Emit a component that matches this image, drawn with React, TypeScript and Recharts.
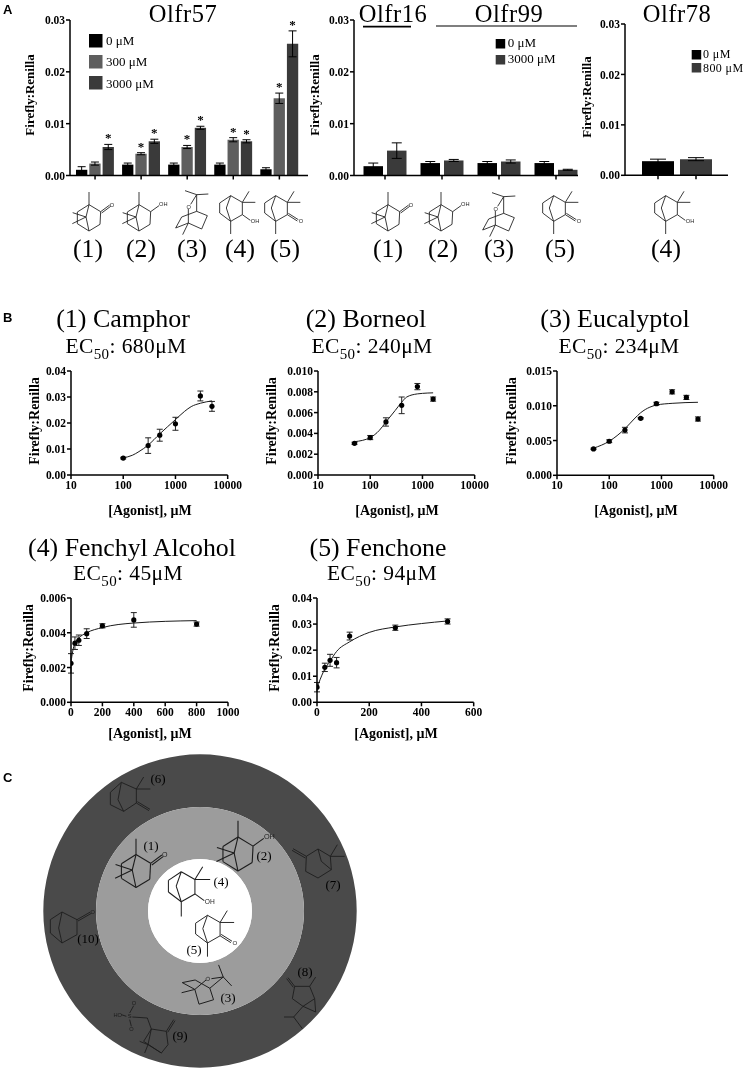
import React from 'react';
import {
  BarChart, Bar, XAxis, YAxis, ErrorBar, LabelList, Cell,
  ScatterChart, Scatter, PieChart, Pie,
} from 'recharts';

const SERIF = '"Liberation Serif", serif';
const BLACK = '#000000';
const MID = '#5e5e5e';
const DARK = '#3a3a3a';

// Panel A
const compounds57 = ['1', '2', '3', '4', '5'];
const olfr57Zero = [0.0011, 0.0021, 0.0021, 0.0021, 0.0012];
const olfr57ZeroErr = [0.0006, 0.0003, 0.0003, 0.0003, 0.0003];
const olfr57Low = [0.0023, 0.0042, 0.0055, 0.0069, 0.0149];
const olfr57LowErr = [0.0003, 0.0002, 0.0003, 0.0004, 0.001];
const olfr57High = [0.0055, 0.0066, 0.0092, 0.0066, 0.0254];
const olfr57HighErr = [0.0005, 0.0004, 0.0003, 0.0003, 0.0025];
const olfr57LowStar = [false, true, true, true, true];
const olfr57HighStar = [true, true, true, true, true];

const compounds99 = ['1', '2', '3', '5'];
const olfr99Zero = [0.0018, 0.0024, 0.0024, 0.0024];
const olfr99ZeroErr = [0.0006, 0.0003, 0.0003, 0.0003];
const olfr99High = [0.0048, 0.0029, 0.0027, 0.0011];
const olfr99HighErr = [0.0015, 0.0002, 0.0003, 0.0001];

const doses78 = ['0', '800'];
const olfr78Values = [0.0028, 0.0032];
const olfr78Err = [0.0004, 0.0003];
const olfr78Colors = [BLACK, DARK];

const barTicks = [0, 0.01, 0.02, 0.03];

// Panel B: measured points
const camphorX = [100, 300, 500, 1000, 3000, 5000];
const camphorY = [0.0065, 0.0113, 0.0153, 0.0197, 0.0304, 0.0264];
const camphorErr = [0.0003, 0.003, 0.0023, 0.0025, 0.0019, 0.0019];
const camphorCurveX = [100, 150, 200, 300, 500, 700, 1000, 1500, 2000, 3000, 5000];
const camphorCurveY = [0.0066, 0.0076, 0.009, 0.0115, 0.0158, 0.0185, 0.0213, 0.0245, 0.0263, 0.0276, 0.0285];

const borneolX = [50, 100, 200, 400, 800, 1600];
const borneolY = [0.00305, 0.0036, 0.0051, 0.0067, 0.0085, 0.0073];
const borneolErr = [0.0001, 0.0002, 0.0004, 0.0008, 0.0003, 0.0002];
const borneolCurveX = [50, 100, 150, 200, 300, 400, 500, 800, 1000, 1600];
const borneolCurveY = [0.0032, 0.0036, 0.0043, 0.0051, 0.0062, 0.007, 0.0075, 0.0078, 0.00785, 0.0079];

const eucalyptolX = [50, 100, 200, 400, 800, 1600, 3000, 5000];
const eucalyptolY = [0.0038, 0.0049, 0.0065, 0.0082, 0.0103, 0.012, 0.0112, 0.0081];
const eucalyptolErr = [0.0001, 0.0002, 0.0004, 0.0001, 0.0002, 0.0003, 0.0003, 0.0003];
const eucalyptolCurveX = [50, 100, 200, 300, 400, 600, 800, 1600, 5000];
const eucalyptolCurveY = [0.0039, 0.0049, 0.0067, 0.0081, 0.009, 0.0098, 0.0101, 0.01035, 0.0105];

const fenchylX = [0, 25, 50, 100, 200, 400, 800];
const fenchylY = [0.00224, 0.0034, 0.00357, 0.00395, 0.0044, 0.00474, 0.0045];
const fenchylErr = [0.00056, 0.00036, 0.0003, 0.00028, 0.00012, 0.00042, 0.00012];
const fenchylCurveX = [0, 10, 25, 50, 100, 200, 400, 800];
const fenchylCurveY = [0.0023, 0.0029, 0.0034, 0.0037, 0.004, 0.0043, 0.00456, 0.0047];

const fenchoneX = [0, 30, 50, 75, 125, 300, 500];
const fenchoneY = [0.0058, 0.0134, 0.0161, 0.0152, 0.0254, 0.0286, 0.031];
const fenchoneErr = [0.0018, 0.0016, 0.0023, 0.002, 0.0015, 0.001, 0.001];
const fenchoneCurveX = [0, 25, 50, 75, 125, 200, 300, 400, 500];
const fenchoneCurveY = [0.0055, 0.0118, 0.0158, 0.0195, 0.0232, 0.0268, 0.0289, 0.0302, 0.0312];

const logTicks = [10, 100, 1000, 10000];

// Panel C
const ringTiers = ['outer', 'middle', 'inner'];
const ringValues = [1, 1, 1];

// Skeletal formulas, as bonds x1 y1 x2 y2 around the middle of each molecule
const camphorFrame = [
  [0, -75, 0, -37], [0, -37, 35, -16], [35, -16, 33, 22], [33, 22, 0, 42], [0, 42, -35, 20],
  [-35, 20, -35, -15], [-35, -15, 0, -37], [0, -37, -9, 0], [-9, 0, 0, 42], [-9, 0, -49, -13], [-9, 0, -50, 20],
];
const fenchFrame = [
  [-7, -52, -40, -30], [-40, -30, -40, 0], [-40, 0, -7, 25], [-7, 25, 28, 5], [28, 5, 28, -32], [28, -32, -7, -52],
  [-7, -52, -20, -15], [-20, -15, -7, 25], [28, -32, 48, -65], [28, -32, 67, -32], [-7, 25, -7, 63],
];
const molecules: Record<string, { bonds: number[][]; atoms: [string, number, number][] }> = {
  camphor: { bonds: [...camphorFrame, [35, -16, 62, -36], [38, -12, 65, -32]], atoms: [['O', 69, -37]] },
  borneol: { bonds: [...camphorFrame, [35, -16, 60, -34]], atoms: [['OH', 73, -38]] },
  eucalyptol: {
    bonds: [
      [20, -55, -15, -67], [20, -55, 55, -57], [20, -55, 2, -26], [-5, -12, -5, 30], [20, -55, 20, -5], [20, -5, 52, 8],
      [52, 8, 35, 48], [35, 48, -5, 30], [-5, 30, -43, 45], [-43, 45, -25, 12], [-25, 12, 20, -5], [-5, 30, -22, 65],
    ],
    atoms: [['O', -4, -18]],
  },
  fenchol: { bonds: [...fenchFrame, [28, 5, 52, 22]], atoms: [['OH', 66, 25]] },
  fenchone: { bonds: [...fenchFrame, [28, 5, 58, 24], [31, 1, 61, 20]], atoms: [['O', 69, 25]] },
  camphene: {
    bonds: [
      [-8, -59, -41, -29], [-41, -29, -41, 8], [-41, 8, -1, 28], [-1, 28, 37, 3], [37, 3, 37, -39], [37, -39, -8, -59],
      [-8, -59, -18, -7], [-18, -7, -1, 28], [37, -39, 59, -75], [37, -39, 79, -39], [37, 3, 75, 26], [40, -1, 78, 22],
    ],
    atoms: [],
  },
  pinene: {
    bonds: [
      [-35, -20, -75, -43], [-38, -15, -78, -38], [-35, -20, -37, 25], [-37, 25, 0, 45], [0, 45, 40, 20], [40, 20, 37, -20],
      [37, -20, 0, -42], [0, -42, -35, -20], [0, -42, 10, -5], [10, -5, 40, 20], [37, -20, 58, -55], [37, -20, 80, -20],
    ],
    atoms: [],
  },
  thujone: {
    bonds: [
      [-25, -32, -45, -58], [-29, -29, -49, -55], [-25, -32, 20, -32], [20, -32, 38, -60], [20, -32, 35, 5], [35, 5, 0, 28],
      [0, 28, -32, 5], [-32, 5, -25, -32], [35, 5, 38, 45], [38, 45, 0, 28], [0, 28, -28, 60], [-28, 60, -57, 60], [-28, 60, -2, 95],
    ],
    atoms: [],
  },
  sulfonic: {
    bonds: [
      [-5, -42, 40, -35], [40, -35, 62, -70], [44, -32, 66, -67], [40, -35, 45, 5], [45, 5, 25, 30], [25, 30, -15, 5],
      [-15, 5, -5, -42], [-5, -42, -28, -5], [-28, -5, 25, 30], [-15, 5, -40, -5], [-15, 5, -25, 30],
      [-5, -42, -17, -75], [-17, -75, -62, -78], [-70, -90, -58, -112], [-70, -70, -65, -50], [-80, -80, -95, -85],
    ],
    atoms: [['S', -70, -80], ['O', -57, -120], ['O', -65, -42], ['HO', -106, -85]],
  },
  norcamphor: {
    bonds: [
      [0, -48, 45, -25], [45, -25, 85, -48], [48, -21, 88, -44], [45, -25, 45, 20], [45, 20, 0, 45], [0, 45, -35, 15],
      [-35, 15, -35, -25], [-35, -25, 0, -48], [0, -48, -10, 0], [-10, 0, 0, 45],
    ],
    atoms: [['O', 92, -48]],
  },
};

function Molecule({ name, x, y, s = 1 / 3, rotate = 0 }: { name: string; x: number; y: number; s?: number; rotate?: number }) {
  const m = molecules[name];
  return (
    <g transform={`translate(${x} ${y}) rotate(${rotate}) scale(${s})`}>
      {m.bonds.map((b, i) => (
        <line key={i} x1={b[0]} y1={b[1]} x2={b[2]} y2={b[3]} stroke="#1c1c1c" strokeWidth={2.6} />
      ))}
      {m.atoms.map(([label, ax, ay], i) => (
        <text key={i} x={ax} y={ay + 6} textAnchor="middle" fontFamily="Liberation Sans" fontSize={17} fill="#1c1c1c">
          {label}
        </text>
      ))}
    </g>
  );
}

const toRows = (xs: number[], ys: number[], errs?: number[]) =>
  xs.map((x, i) => ({ x, y: ys[i], err: errs ? errs[i] : 0 }));

const tickStyle = { fontFamily: SERIF, fontSize: 11.5, fontWeight: 700, fill: '#000' };
const axisLine = { stroke: '#000', strokeWidth: 1.5 };

function Place({ x, y, children }: { x: number; y: number; children: React.ReactNode }) {
  return <div style={{ position: 'absolute', left: x - 60, top: y - 10, willChange: 'transform' }}>{children}</div>;
}

const frame = (w: number, h: number) => ({
  width: w + 80,
  height: h + 70,
  margin: { top: 10, right: 20, bottom: 10, left: 0 },
});

const starLabel = (errs: number[], flags: boolean[], pxPerUnit: number) => (props: any) => {
  const { x, y, width, index } = props;
  if (!flags[index]) return null;
  return (
    <text x={x + width / 2} y={y - errs[index] * pxPerUnit - 2} textAnchor="middle" fontFamily={SERIF} fontWeight={700} fontSize={13} fill="#000">
      *
    </text>
  );
};

function DoseResponse(props: {
  x: number; y: number; w: number; h: number;
  points: { x: number; y: number; err: number }[];
  curve: { x: number; y: number; err: number }[];
  yMax: number; yTicks: number[]; decimals: number;
  log?: boolean; xMax?: number; xTicks?: number[];
}) {
  const { x, y, w, h, points, curve, yMax, yTicks, decimals, log, xMax, xTicks } = props;
  return (
    <Place x={x} y={y}>
      <ScatterChart {...frame(w, h)}>
        <XAxis
          type="number"
          dataKey="x"
          scale={log ? 'log' : 'linear'}
          domain={log ? [10, 10000] : [0, xMax as number]}
          ticks={log ? logTicks : xTicks}
          interval={0}
          height={50}
          axisLine={axisLine}
          tickLine={axisLine}
          tickSize={4}
          tickMargin={2}
          tick={tickStyle}
          allowDataOverflow
        />
        <YAxis
          type="number"
          dataKey="y"
          width={60}
          domain={[0, yMax]}
          ticks={yTicks}
          interval={0}
          axisLine={axisLine}
          tickLine={axisLine}
          tickSize={4}
          tickMargin={1}
          tick={tickStyle}
          tickFormatter={(v: number) => v.toFixed(decimals)}
        />
        <Scatter
          data={curve}
          isAnimationActive={false}
          line={{ stroke: '#1a1a1a', strokeWidth: 1 }}
          lineJointType="monotoneX"
          shape={() => <g />}
        />
        <Scatter
          data={points}
          isAnimationActive={false}
          fill="#000"
          shape={(p: any) => <circle cx={p.cx} cy={p.cy} r={2.6} fill="#000" />}
        >
          <ErrorBar dataKey="err" direction="y" width={3} stroke="#222" strokeWidth={1} isAnimationActive={false} />
        </Scatter>
      </ScatterChart>
    </Place>
  );
}

function Label(props: { x: number; y: number; size: number; bold?: boolean; anchor?: string; spacing?: number; children: React.ReactNode }) {
  const { x, y, size, bold, anchor = 'middle', spacing = 0, children } = props;
  return (
    <text x={x} y={y} fontFamily={SERIF} fontSize={size} fontWeight={bold ? 700 : 400} letterSpacing={spacing} textAnchor={anchor as any} fill="#000">
      {children}
    </text>
  );
}

function YTitle({ x, y, size = 13 }: { x: number; y: number; size?: number }) {
  return (
    <text transform={`translate(${x} ${y}) rotate(-90)`} fontFamily={SERIF} fontSize={size} fontWeight={700} textAnchor="middle" fill="#000">
      Firefly:Renilla
    </text>
  );
}

function Ec50({ x, y, value }: { x: number; y: number; value: string }) {
  return (
    <text x={x} y={y} fontFamily={SERIF} fontSize={21.5} letterSpacing={0.4} textAnchor="middle" fill="#000">
      EC<tspan dy={6} fontSize={15}>50</tspan><tspan dy={-6}>: {value}μM</tspan>
    </text>
  );
}

function Swatch({ x, y, size, color }: { x: number; y: number; size: number; color: string }) {
  return <rect x={x} y={y} width={size} height={size} fill={color} />;
}

export default function App() {
  const rows57 = compounds57.map((c, i) => ({
    c, zero: olfr57Zero[i], zeroErr: olfr57ZeroErr[i], low: olfr57Low[i], lowErr: olfr57LowErr[i], high: olfr57High[i], highErr: olfr57HighErr[i],
  }));
  const rows99 = compounds99.map((c, i) => ({
    c, zero: olfr99Zero[i], zeroErr: olfr99ZeroErr[i], high: olfr99High[i], highErr: olfr99HighErr[i],
  }));
  const rows78 = doses78.map((c, i) => ({ c, value: olfr78Values[i], err: olfr78Err[i] }));
  const rings = ringTiers.map((name, i) => ({ name, value: ringValues[i] }));
  const pxPerUnit = 155.5 / 0.03;
  const blankTick = () => '';

  return (
    <div style={{ position: 'absolute', left: 0, top: 0, width: 746, height: 1070, background: '#fff', overflow: 'hidden' }}>
      {/* A */}
      <Place x={70} y={20}>
        <BarChart {...frame(238, 155.5)} data={rows57} barSize={11.3} barGap={2}>
          <XAxis dataKey="c" height={50} padding={{ left: 2, right: 5.6 }} axisLine={axisLine} tickLine={axisLine} tickSize={4} tickFormatter={blankTick} />
          <YAxis width={60} domain={[0, 0.03]} ticks={barTicks} interval={0} axisLine={axisLine} tickLine={axisLine} tickSize={4} tickMargin={1} tick={tickStyle} tickFormatter={(v: number) => v.toFixed(2)} />
          <Bar dataKey="zero" fill={BLACK} isAnimationActive={false}>
            <ErrorBar dataKey="zeroErr" direction="y" width={4} stroke="#000" strokeWidth={1} isAnimationActive={false} />
          </Bar>
          <Bar dataKey="low" fill={MID} isAnimationActive={false}>
            <ErrorBar dataKey="lowErr" direction="y" width={4} stroke="#000" strokeWidth={1} isAnimationActive={false} />
            <LabelList dataKey="low" content={starLabel(olfr57LowErr, olfr57LowStar, pxPerUnit)} />
          </Bar>
          <Bar dataKey="high" fill={DARK} isAnimationActive={false}>
            <ErrorBar dataKey="highErr" direction="y" width={4} stroke="#000" strokeWidth={1} isAnimationActive={false} />
            <LabelList dataKey="high" content={starLabel(olfr57HighErr, olfr57HighStar, pxPerUnit)} />
          </Bar>
        </BarChart>
      </Place>
      <Place x={354} y={20}>
        <BarChart {...frame(224, 155.5)} data={rows99} barSize={19.5} barGap={4}>
          <XAxis dataKey="c" height={50} padding={{ left: 2.5, right: -6.5 }} axisLine={axisLine} tickLine={axisLine} tickSize={4} tickFormatter={blankTick} />
          <YAxis width={60} domain={[0, 0.03]} ticks={barTicks} interval={0} axisLine={axisLine} tickLine={axisLine} tickSize={4} tickMargin={1} tick={tickStyle} tickFormatter={(v: number) => v.toFixed(2)} />
          <Bar dataKey="zero" fill={BLACK} isAnimationActive={false}>
            <ErrorBar dataKey="zeroErr" direction="y" width={5} stroke="#000" strokeWidth={1} isAnimationActive={false} />
          </Bar>
          <Bar dataKey="high" fill={DARK} isAnimationActive={false}>
            <ErrorBar dataKey="highErr" direction="y" width={5} stroke="#000" strokeWidth={1} isAnimationActive={false} />
          </Bar>
        </BarChart>
      </Place>
      <Place x={625} y={24.3}>
        <BarChart {...frame(103, 151.3)} data={rows78} barSize={32}>
          <XAxis dataKey="c" height={50} padding={{ left: 14, right: 13 }} axisLine={axisLine} tickLine={axisLine} tickSize={4} tickFormatter={blankTick} />
          <YAxis width={60} domain={[0, 0.03]} ticks={barTicks} interval={0} axisLine={axisLine} tickLine={axisLine} tickSize={4} tickMargin={1} tick={tickStyle} tickFormatter={(v: number) => v.toFixed(2)} />
          <Bar dataKey="value" isAnimationActive={false}>
            {rows78.map((r, i) => <Cell key={r.c} fill={olfr78Colors[i]} />)}
            <ErrorBar dataKey="err" direction="y" width={8} stroke="#000" strokeWidth={1} isAnimationActive={false} />
          </Bar>
        </BarChart>
      </Place>

      {/* B */}
      <DoseResponse x={71} y={371} w={156.7} h={104} points={toRows(camphorX, camphorY, camphorErr)} curve={toRows(camphorCurveX, camphorCurveY)} yMax={0.04} yTicks={[0, 0.01, 0.02, 0.03, 0.04]} decimals={2} log />
      <DoseResponse x={317.7} y={371} w={156.7} h={104} points={toRows(borneolX, borneolY, borneolErr)} curve={toRows(borneolCurveX, borneolCurveY)} yMax={0.01} yTicks={[0, 0.002, 0.004, 0.006, 0.008, 0.01]} decimals={3} log />
      <DoseResponse x={556.7} y={370.7} w={156.7} h={104.3} points={toRows(eucalyptolX, eucalyptolY, eucalyptolErr)} curve={toRows(eucalyptolCurveX, eucalyptolCurveY)} yMax={0.015} yTicks={[0, 0.005, 0.01, 0.015]} decimals={3} log />
      <DoseResponse x={70.7} y={598} w={157} h={104.3} points={toRows(fenchylX, fenchylY, fenchylErr)} curve={toRows(fenchylCurveX, fenchylCurveY)} yMax={0.006} yTicks={[0, 0.002, 0.004, 0.006]} decimals={3} xMax={1000} xTicks={[0, 200, 400, 600, 800, 1000]} />
      <DoseResponse x={316.7} y={598} w={156.7} h={104.3} points={toRows(fenchoneX, fenchoneY, fenchoneErr)} curve={toRows(fenchoneCurveX, fenchoneCurveY)} yMax={0.04} yTicks={[0, 0.01, 0.02, 0.03, 0.04]} decimals={2} xMax={600} xTicks={[0, 200, 400, 600]} />

      {/* C */}
      <div style={{ position: 'absolute', left: 40, top: 751 }}>
        <PieChart width={320} height={320} margin={{ top: 0, right: 0, bottom: 0, left: 0 }}>
          <Pie data={rings.slice(0, 1)} dataKey="value" cx={160} cy={160} innerRadius={104} outerRadius={156.7} startAngle={0} endAngle={360} fill="#4a4a4a" stroke="none" isAnimationActive={false} />
          <Pie data={rings.slice(1, 2)} dataKey="value" cx={160} cy={160} innerRadius={52} outerRadius={104} startAngle={0} endAngle={360} fill="#9c9c9c" stroke="none" isAnimationActive={false} />
          <Pie data={rings.slice(2, 3)} dataKey="value" cx={160} cy={160} innerRadius={0} outerRadius={52} startAngle={0} endAngle={360} fill="#ffffff" stroke="none" isAnimationActive={false} />
        </PieChart>
      </div>

      <svg width={746} height={1070} style={{ position: 'absolute', left: 0, top: 0, pointerEvents: 'none', willChange: 'transform' }}>
        <text x={3} y={14} fontFamily="Liberation Sans" fontWeight={700} fontSize={13}>A</text>
        <text x={3} y={322} fontFamily="Liberation Sans" fontWeight={700} fontSize={13}>B</text>
        <text x={3} y={782} fontFamily="Liberation Sans" fontWeight={700} fontSize={13}>C</text>

        <Label x={183} y={22} size={24.5} spacing={0.5}>Olfr57</Label>
        <Label x={393} y={22} size={24.5} spacing={0.5}>Olfr16</Label>
        <Label x={509} y={22} size={24.5} spacing={0.5}>Olfr99</Label>
        <Label x={677} y={22} size={24.5} spacing={0.5}>Olfr78</Label>
        <line x1={363} x2={411} y1={26.6} y2={26.6} stroke="#000" strokeWidth={1.8} />
        <line x1={436} x2={577} y1={26} y2={26} stroke="#000" strokeWidth={1.2} />

        <YTitle x={34} y={95} />
        <YTitle x={319} y={95} />
        <YTitle x={591} y={97} />

        <Swatch x={89} y={34} size={13.5} color={BLACK} />
        <Swatch x={89} y={55} size={13.5} color={MID} />
        <Swatch x={89} y={76} size={13.5} color={DARK} />
        <Label x={106} y={45} size={13} anchor="start">0 μM</Label>
        <Label x={106} y={66} size={13} anchor="start">300 μM</Label>
        <Label x={106} y={88} size={13} anchor="start">3000 μM</Label>

        <Swatch x={495.7} y={39} size={9.5} color={BLACK} />
        <Swatch x={495.7} y={55} size={9.5} color={DARK} />
        <Label x={507.7} y={47} size={13} anchor="start">0 μM</Label>
        <Label x={507.7} y={63} size={13} anchor="start">3000 μM</Label>

        <Swatch x={691.7} y={50} size={9.5} color={BLACK} />
        <Swatch x={691.7} y={63} size={9.5} color={DARK} />
        <Label x={703} y={58} size={12} spacing={0.4} anchor="start">0 μM</Label>
        <Label x={703} y={72} size={12} spacing={0.4} anchor="start">800 μM</Label>

        <Molecule name="camphor" x={89} y={217} />
        <Molecule name="borneol" x={139} y={217} />
        <Molecule name="eucalyptol" x={190} y={213} />
        <Molecule name="fenchol" x={233} y={213} />
        <Molecule name="fenchone" x={278} y={213} />
        <Molecule name="camphor" x={388} y={217} />
        <Molecule name="borneol" x={441} y={217} />
        <Molecule name="eucalyptol" x={497} y={215} />
        <Molecule name="fenchone" x={556} y={213} />
        <Molecule name="fenchol" x={668} y={213} />

        {[['(1)', 88], ['(2)', 141], ['(3)', 192], ['(4)', 240], ['(5)', 285], ['(1)', 388], ['(2)', 443], ['(3)', 499], ['(5)', 560], ['(4)', 666]].map(([t, x], i) => (
          <Label key={i} x={x as number} y={257} size={25.6}>{t}</Label>
        ))}

        <Label x={123} y={326.5} size={26}>(1) Camphor</Label>
        <Ec50 x={126} y={352.5} value="680" />
        <Label x={366} y={326.5} size={26}>(2) Borneol</Label>
        <Ec50 x={372} y={352.5} value="240" />
        <Label x={615} y={326.5} size={26}>(3) Eucalyptol</Label>
        <Ec50 x={619} y={352.5} value="234" />
        <Label x={132} y={555.5} size={25.8}>(4) Fenchyl Alcohol</Label>
        <Ec50 x={128} y={580.3} value="45" />
        <Label x={378} y={555.5} size={25.8}>(5) Fenchone</Label>
        <Ec50 x={382} y={580.3} value="94" />

        <YTitle x={39} y={421} size={14} />
        <YTitle x={276} y={421} size={14} />
        <YTitle x={516} y={421} size={14} />
        <YTitle x={33} y={648} size={14} />
        <YTitle x={279} y={648} size={14} />
        <Label x={150} y={515} size={14} bold>[Agonist], μM</Label>
        <Label x={397} y={515} size={14} bold>[Agonist], μM</Label>
        <Label x={636} y={515} size={14} bold>[Agonist], μM</Label>
        <Label x={150} y={738} size={14} bold>[Agonist], μM</Label>
        <Label x={396} y={738} size={14} bold>[Agonist], μM</Label>

        <Molecule name="camphene" x={124} y={802} />
        <Molecule name="camphor" x={136} y={870} s={0.417} />
        <Molecule name="borneol" x={238} y={853} s={0.43} />
        <Molecule name="fenchol" x={184} y={892} s={0.39} />
        <Molecule name="fenchone" x={210} y={934} s={0.36} />
        <Molecule name="eucalyptol" x={204} y={984} s={0.35} rotate={50} />
        <Molecule name="pinene" x={318} y={863} />
        <Molecule name="thujone" x={303} y={997} />
        <Molecule name="sulfonic" x={153} y={1043} />
        <Molecule name="norcamphor" x={62} y={928} />

        <Label x={158} y={783} size={13}>(6)</Label>
        <Label x={151} y={850} size={13}>(1)</Label>
        <Label x={264} y={860} size={13}>(2)</Label>
        <Label x={221} y={886} size={13}>(4)</Label>
        <Label x={333} y={889} size={13}>(7)</Label>
        <Label x={88} y={943} size={13}>(10)</Label>
        <Label x={194} y={954} size={13}>(5)</Label>
        <Label x={228} y={1002} size={13}>(3)</Label>
        <Label x={305} y={976} size={13}>(8)</Label>
        <Label x={180} y={1040} size={13}>(9)</Label>
      </svg>
    </div>
  );
}
